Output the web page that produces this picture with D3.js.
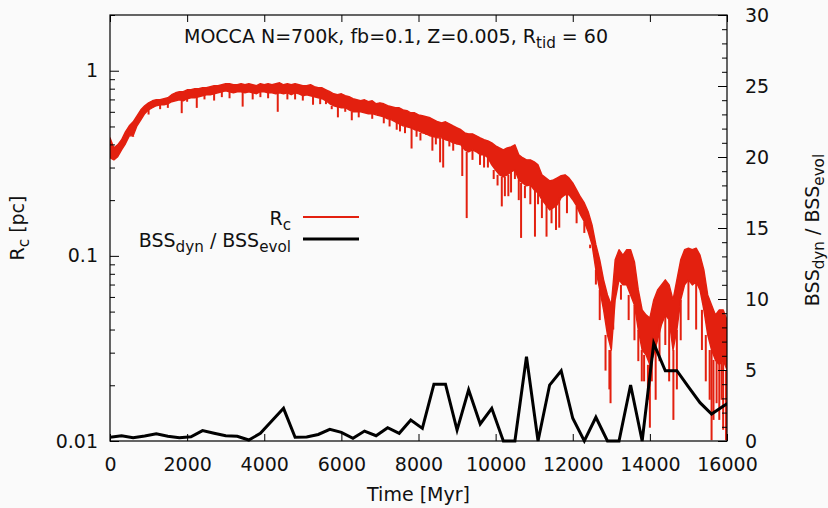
<!DOCTYPE html>
<html>
<head>
<meta charset="utf-8">
<script src="https://cdn.jsdelivr.net/npm/d3@7"></script>
<style>
    body { margin: 0; background: #fafafa; }
    svg { display: block; background: #fafafa; font-family: "DejaVu Sans", sans-serif; }
</style>
</head>
<body>
<svg id="chart" width="828" height="508"></svg>
<script>
// core radius: upper / lower envelope of the noisy track, every 100 Myr
const rcTime = [
    0, 100, 200, 300, 400, 500, 600, 700, 800, 900,
    1000, 1100, 1200, 1300, 1400, 1500, 1600, 1700, 1800, 1900,
    2000, 2100, 2200, 2300, 2400, 2500, 2600, 2700, 2800, 2900,
    3000, 3100, 3200, 3300, 3400, 3500, 3600, 3700, 3800, 3900,
    4000, 4100, 4200, 4300, 4400, 4500, 4600, 4700, 4800, 4900,
    5000, 5100, 5200, 5300, 5400, 5500, 5600, 5700, 5800, 5900,
    6000, 6100, 6200, 6300, 6400, 6500, 6600, 6700, 6800, 6900,
    7000, 7100, 7200, 7300, 7400, 7500, 7600, 7700, 7800, 7900,
    8000, 8100, 8200, 8300, 8400, 8500, 8600, 8700, 8800, 8900,
    9000, 9100, 9200, 9300, 9400, 9500, 9600, 9700, 9800, 9900,
    10000, 10100, 10200, 10300, 10400, 10500, 10600, 10700, 10800, 10900,
    11000, 11100, 11200, 11300, 11400, 11500, 11600, 11700, 11800, 11900,
    12000, 12100, 12200, 12300, 12400, 12500, 12600, 12700, 12800, 12900,
    13000, 13100, 13200, 13300, 13400, 13500, 13600, 13700, 13800, 13900,
    14000, 14100, 14200, 14300, 14400, 14500, 14600, 14700, 14800, 14900,
    15000, 15100, 15200, 15300, 15400, 15500, 15600, 15700, 15800, 15900,
    16000
];
const rcHigh = [
    0.434, 0.383, 0.398, 0.424, 0.468, 0.504, 0.530, 0.571, 0.615, 0.647,
    0.671, 0.688, 0.697, 0.697, 0.706, 0.715, 0.742, 0.760, 0.770, 0.770,
    0.789, 0.789, 0.799, 0.799, 0.809, 0.809, 0.820, 0.830, 0.830, 0.840,
    0.851, 0.851, 0.840, 0.840, 0.851, 0.840, 0.851, 0.840, 0.830, 0.851,
    0.840, 0.851, 0.840, 0.851, 0.861, 0.840, 0.851, 0.840, 0.851, 0.840,
    0.830, 0.830, 0.840, 0.820, 0.809, 0.809, 0.789, 0.770, 0.751, 0.742,
    0.751, 0.733, 0.724, 0.706, 0.697, 0.688, 0.697, 0.680, 0.688, 0.663,
    0.671, 0.663, 0.647, 0.639, 0.631, 0.631, 0.615, 0.608, 0.593, 0.593,
    0.578, 0.571, 0.564, 0.557, 0.543, 0.530, 0.523, 0.530, 0.517, 0.504,
    0.492, 0.480, 0.462, 0.456, 0.456, 0.445, 0.434, 0.424, 0.418, 0.408,
    0.393, 0.383, 0.374, 0.383, 0.388, 0.398, 0.352, 0.339, 0.330, 0.330,
    0.322, 0.310, 0.274, 0.264, 0.254, 0.257, 0.264, 0.271, 0.274, 0.264,
    0.248, 0.227, 0.208, 0.193, 0.173, 0.147, 0.115, 0.0952, 0.0742, 0.0615,
    0.0543, 0.0952, 0.108, 0.101, 0.108, 0.108, 0.0928, 0.0655, 0.0511, 0.0480,
    0.0462, 0.0578, 0.0655, 0.0697, 0.0742, 0.0697, 0.0578, 0.0742, 0.0952, 0.108,
    0.110, 0.108, 0.110, 0.101, 0.0840, 0.0615, 0.0543, 0.0480, 0.0511, 0.0511,
    0.0451
];
const rcLow = [
    0.339, 0.330, 0.343, 0.374, 0.403, 0.445, 0.445, 0.504, 0.543, 0.586,
    0.615, 0.631, 0.647, 0.655, 0.655, 0.663, 0.680, 0.688, 0.697, 0.688,
    0.706, 0.715, 0.715, 0.724, 0.733, 0.742, 0.742, 0.751, 0.760, 0.770,
    0.780, 0.770, 0.760, 0.770, 0.770, 0.760, 0.770, 0.760, 0.751, 0.770,
    0.770, 0.760, 0.760, 0.751, 0.760, 0.751, 0.760, 0.742, 0.760, 0.751,
    0.733, 0.742, 0.733, 0.724, 0.715, 0.706, 0.688, 0.663, 0.647, 0.639,
    0.631, 0.631, 0.615, 0.600, 0.600, 0.600, 0.593, 0.586, 0.586, 0.578,
    0.571, 0.564, 0.550, 0.543, 0.530, 0.517, 0.504, 0.498, 0.492, 0.480,
    0.474, 0.462, 0.456, 0.445, 0.440, 0.434, 0.434, 0.424, 0.418, 0.408,
    0.403, 0.398, 0.374, 0.365, 0.374, 0.365, 0.352, 0.352, 0.339, 0.310,
    0.291, 0.274, 0.267, 0.274, 0.284, 0.291, 0.257, 0.248, 0.239, 0.242,
    0.227, 0.219, 0.201, 0.189, 0.177, 0.182, 0.189, 0.206, 0.214, 0.214,
    0.201, 0.186, 0.167, 0.153, 0.135, 0.115, 0.0840, 0.0655, 0.0511, 0.0374,
    0.0310, 0.0578, 0.0742, 0.0697, 0.0697, 0.0615, 0.0543, 0.0398, 0.0310, 0.0292,
    0.0258, 0.0292, 0.0352, 0.0424, 0.0480, 0.0451, 0.0310, 0.0398, 0.0578, 0.0697,
    0.0742, 0.0697, 0.0724, 0.0655, 0.0511, 0.0374, 0.0310, 0.0274, 0.0258, 0.0274,
    0.0242
];
// single-step drops of the core radius
const dipTime = [
    600, 1000, 1300, 1500, 1860, 2000, 2250, 2450, 2700, 2900,
    3100, 3440, 3700, 3900, 4100, 4350, 4600, 4800, 5000, 5265,
    5450, 5600, 5750, 5910, 6100, 6270, 6450, 6640, 6800, 6950,
    7100, 7250, 7435, 7520, 7650, 7820, 7950, 8050, 8200, 8360,
    8450, 8560, 8640, 8800, 8900, 9000, 9135, 9250, 9400, 9595,
    9700, 9800, 9950, 10050, 10160, 10240, 10330, 10400, 10500, 10600,
    10660, 10760, 10900, 11020, 11100, 11200, 11320, 11450, 11565, 11650,
    11850, 12100, 12300, 12450, 12600, 12700, 12850, 12950, 12980, 13050,
    13250, 13450, 13600, 13700, 13790, 13850, 13950, 14000, 14050, 14150,
    14250, 14400, 14500, 14610, 14700, 14800, 15000, 15200, 15350, 15450,
    15550, 15600, 15650, 15730, 15800, 15860, 15900, 15975
];
const dipValue = [
    0.44, 0.58, 0.62, 0.63, 0.59, 0.68, 0.63, 0.70, 0.69, 0.72,
    0.71, 0.64, 0.70, 0.72, 0.71, 0.60, 0.70, 0.70, 0.69, 0.655,
    0.66, 0.66, 0.62, 0.56, 0.60, 0.54, 0.56, 0.615, 0.55, 0.58,
    0.52, 0.50, 0.48, 0.47, 0.46, 0.38, 0.44, 0.42, 0.45, 0.37,
    0.40, 0.32, 0.30, 0.39, 0.37, 0.40, 0.27, 0.16, 0.33, 0.31,
    0.30, 0.30, 0.26, 0.24, 0.185, 0.21, 0.21, 0.22, 0.26, 0.20,
    0.125, 0.205, 0.19, 0.127, 0.19, 0.16, 0.127, 0.15, 0.138, 0.142,
    0.17, 0.15, 0.133, 0.11, 0.07, 0.045, 0.024, 0.019, 0.016, 0.040,
    0.058, 0.045, 0.035, 0.027, 0.021, 0.021, 0.0167, 0.0118, 0.021, 0.0167,
    0.027, 0.033, 0.021, 0.013, 0.019, 0.035, 0.045, 0.040, 0.031, 0.021,
    0.0167, 0.0101, 0.013, 0.016, 0.013, 0.0167, 0.0115, 0.0101
];

// BSS_dyn / BSS_evol
const bssTime = [
    0, 300, 600, 900, 1200, 1500, 1800, 2100, 2400, 2700,
    3000, 3300, 3600, 3900, 4200, 4500, 4800, 5100, 5400, 5700,
    6000, 6300, 6600, 6900, 7200, 7500, 7800, 8100, 8400, 8700,
    9000, 9300, 9600, 9900, 10200, 10500, 10800, 11100, 11400, 11700,
    12000, 12300, 12600, 12900, 13200, 13500, 13800, 14100, 14400, 14700,
    15000, 15300, 15600, 15900, 16200
];
const bssRatio = [
    0.26, 0.37, 0.23, 0.35, 0.51, 0.33, 0.23, 0.30, 0.73, 0.55,
    0.37, 0.33, 0.07, 0.54, 1.43, 2.3, 0.26, 0.28, 0.46, 0.82,
    0.61, 0.19, 0.70, 0.37, 0.94, 0.54, 1.48, 0.89, 4.0, 4.0,
    0.77, 3.6, 1.2, 2.3, 0, 0, 5.94, 0, 3.94, 4.95,
    1.6, 0, 1.67, 0, 0, 3.94, 0, 6.88, 4.95, 4.95,
    3.82, 2.7, 1.9, 2.45, 2.98
];

const xTicks = [0, 2000, 4000, 6000, 8000, 10000, 12000, 14000, 16000];
const yTicks = [0.01, 0.1, 1];
const yMinorTicks = [0.02, 0.03, 0.04, 0.05, 0.06, 0.07, 0.08, 0.09,
    0.2, 0.3, 0.4, 0.5, 0.6, 0.7, 0.8, 0.9, 2];
const y2Ticks = [0, 5, 10, 15, 20, 25, 30];
const y2MinorTicks = [1, 2, 3, 4, 6, 7, 8, 9, 11, 12, 13, 14, 16, 17, 18, 19,
    21, 22, 23, 24, 26, 27, 28, 29];

// plot box
const boxLeft = 110, boxRight = 727, boxTop = 15, boxBottom = 441;
const red = "#e3200f";
const fontSize = 19;

const svg = d3.select("#chart");

const x = d3.scaleLinear().domain([0, 16000]).range([boxLeft, boxRight]);
const y = d3.scaleLog().domain([0.01, 2]).range([boxBottom, boxTop]);
const y2 = d3.scaleLinear().domain([0, 30]).range([boxBottom, boxTop]);

svg.append("clipPath")
    .attr("id", "clip")
    .append("rect")
    .attr("x", boxLeft)
    .attr("y", 0)
    .attr("width", boxRight - boxLeft)
    .attr("height", 508);

const plot = svg.append("g").attr("clip-path", "url(#clip)");

// red core radius band
const rc = rcTime.map((t, i) => ({ t: t, hi: rcHigh[i], lo: rcLow[i] }));

plot.append("path")
    .datum(rc)
    .attr("fill", red)
    .attr("stroke", red)
    .attr("stroke-width", 1.4)
    .attr("stroke-linejoin", "round")
    .attr("d", d3.area()
        .x(d => x(d.t))
        .y0(d => y(d.lo))
        .y1(d => y(d.hi)));

plot.selectAll(".dip")
    .data(dipTime.map((t, i) => ({ t: t, v: dipValue[i] })))
    .enter().append("line")
    .attr("class", "dip")
    .attr("x1", d => x(d.t))
    .attr("x2", d => x(d.t))
    .attr("y1", d => {
        const i = Math.min(rcTime.length - 1, Math.round(d.t / (rcTime[1] - rcTime[0])));
        return y(rcLow[i]);
    })
    .attr("y2", d => y(d.v))
    .attr("stroke", red)
    .attr("stroke-width", 2);

// black ratio line
plot.append("path")
    .datum(bssTime.map((t, i) => ({ t: t, v: bssRatio[i] })))
    .attr("fill", "none")
    .attr("stroke", "#000")
    .attr("stroke-width", 3)
    .attr("stroke-linejoin", "miter")
    .attr("d", d3.line()
        .x(d => x(d.t))
        .y(d => y2(d.v)));

// axes
function styleAxis(g) {
    g.select(".domain").remove();
    g.attr("font-size", fontSize)
        .attr("font-family", "DejaVu Sans, sans-serif")
        .attr("color", "#000");
    g.selectAll("text").attr("fill", "#111");
}

svg.append("g")
    .attr("transform", `translate(0,${boxBottom})`)
    .call(d3.axisBottom(x).tickValues(xTicks).tickSize(-7).tickPadding(17)
        .tickFormat(d3.format("d")))
    .call(styleAxis);

svg.append("g")
    .attr("transform", `translate(0,${boxTop})`)
    .call(d3.axisTop(x).tickValues(xTicks).tickSize(-7).tickFormat(""))
    .call(styleAxis);

svg.append("g")
    .attr("transform", `translate(${boxLeft},0)`)
    .call(d3.axisLeft(y).tickValues(yTicks).tickSize(-9).tickPadding(12)
        .tickFormat(d => String(d)))
    .call(styleAxis);

svg.append("g")
    .attr("transform", `translate(${boxLeft},0)`)
    .call(d3.axisLeft(y).tickValues(yMinorTicks).tickSize(-5).tickFormat(""))
    .call(styleAxis);

svg.append("g")
    .attr("transform", `translate(${boxRight},0)`)
    .call(d3.axisRight(y2).tickValues(y2Ticks).tickSize(-9).tickPadding(18))
    .call(styleAxis);

svg.append("g")
    .attr("transform", `translate(${boxRight},0)`)
    .call(d3.axisRight(y2).tickValues(y2MinorTicks).tickSize(-5).tickFormat(""))
    .call(styleAxis);

// border
svg.append("rect")
    .attr("x", boxLeft)
    .attr("y", boxTop)
    .attr("width", boxRight - boxLeft)
    .attr("height", boxBottom - boxTop)
    .attr("fill", "none")
    .attr("stroke", "#000")
    .attr("stroke-width", 1.2);

// text with subscripts
function subText(g, parts) {
    parts.forEach(p => {
        const ts = g.append("tspan").text(p.text);
        if (p.sub) {
            ts.attr("font-size", fontSize * 0.8).attr("dy", 5);
        } else if (p.after) {
            ts.attr("dy", -5);
        }
    });
}

const title = svg.append("text")
    .attr("x", 184)
    .attr("y", 43)
    .attr("font-size", fontSize)
    .attr("fill", "#111");
subText(title, [
    { text: "MOCCA N=700k, fb=0.1, Z=0.005, R" },
    { text: "tid", sub: true },
    { text: " = 60", after: true }
]);

svg.append("text")
    .attr("x", (boxLeft + boxRight) / 2)
    .attr("y", 501)
    .attr("text-anchor", "middle")
    .attr("font-size", fontSize)
    .attr("fill", "#111")
    .text("Time [Myr]");

const yLabel = svg.append("text")
    .attr("transform", "translate(24,228) rotate(-90)")
    .attr("text-anchor", "middle")
    .attr("font-size", fontSize)
    .attr("fill", "#111");
subText(yLabel, [
    { text: "R" },
    { text: "c", sub: true },
    { text: " [pc]", after: true }
]);

const y2Label = svg.append("text")
    .attr("transform", "translate(819,230) rotate(-90)")
    .attr("text-anchor", "middle")
    .attr("font-size", fontSize)
    .attr("fill", "#111");
subText(y2Label, [
    { text: "BSS" },
    { text: "dyn", sub: true },
    { text: " / BSS", after: true },
    { text: "evol", sub: true }
]);

// legend
const legend = svg.append("g");

const legRc = legend.append("text")
    .attr("x", 291)
    .attr("y", 225)
    .attr("text-anchor", "end")
    .attr("font-size", fontSize)
    .attr("fill", "#111");
subText(legRc, [{ text: "R" }, { text: "c", sub: true }]);

legend.append("line")
    .attr("x1", 303).attr("x2", 359)
    .attr("y1", 217).attr("y2", 217)
    .attr("stroke", red)
    .attr("stroke-width", 2);

const legBss = legend.append("text")
    .attr("x", 291)
    .attr("y", 247)
    .attr("text-anchor", "end")
    .attr("font-size", fontSize)
    .attr("fill", "#111");
subText(legBss, [
    { text: "BSS" },
    { text: "dyn", sub: true },
    { text: " / BSS", after: true },
    { text: "evol", sub: true }
]);

legend.append("line")
    .attr("x1", 303).attr("x2", 359)
    .attr("y1", 239).attr("y2", 239)
    .attr("stroke", "#000")
    .attr("stroke-width", 3);
</script>
</body>
</html>
